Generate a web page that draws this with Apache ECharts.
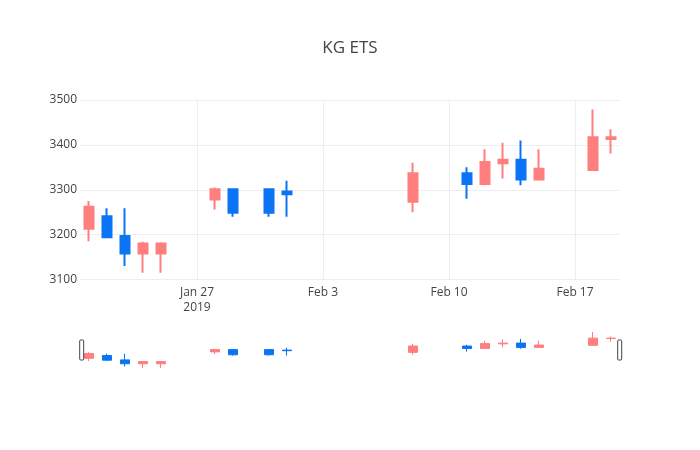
<!DOCTYPE html>
<html>
<head>
<meta charset="utf-8">
<script src="https://cdn.jsdelivr.net/npm/echarts@6/dist/echarts.min.js"></script>
<style>
  html, body { margin: 0; padding: 0; background: #fff; }
  #chart { width: 700px; height: 450px; }
</style>
</head>
<body>
<div id="chart"></div>
<script>
// trading days
const dates = ['2019-01-21', '2019-01-22', '2019-01-23', '2019-01-24', '2019-01-25',
  '2019-01-28', '2019-01-29', '2019-01-31', '2019-02-01',
  '2019-02-08', '2019-02-11', '2019-02-12', '2019-02-13', '2019-02-14', '2019-02-15',
  '2019-02-18', '2019-02-19']
const opens = [3213, 3241, 3197, 3158, 3158, 3278, 3301, 3301, 3296, 3273, 3337, 3313, 3359, 3367, 3323, 3344, 3413]
const closes = [3262, 3194, 3158, 3180, 3180, 3301, 3249, 3249, 3290, 3337, 3313, 3362, 3367, 3323, 3347, 3417, 3417]
const lows = [3185, 3192, 3130, 3115, 3115, 3256, 3240, 3240, 3240, 3250, 3280, 3310, 3325, 3310, 3321, 3343, 3381]
const highs = [3275, 3259, 3259, 3184, 3183, 3305, 3301, 3302, 3320, 3360, 3350, 3390, 3405, 3410, 3390, 3479, 3435]

const tickDates = ['2019-01-27', '2019-02-03', '2019-02-10', '2019-02-17']
const tickLabels = ['Jan 27\n2019', 'Feb 3', 'Feb 10', 'Feb 17']

const upColor = '#ff7f7f'
const downColor = '#0a74f5'
const DAY = 24 * 3600 * 1000

const t = (s) => new Date(s + 'T00:00:00').getTime()

const candles = dates.map((d, i) => [t(d), opens[i], closes[i], lows[i], highs[i]])
const tickValues = tickDates.map(t)
const xMin = t(dates[0]) - DAY / 2
const xMax = t(dates[dates.length - 1]) + DAY / 2

const chart = echarts.init(document.getElementById('chart'))

const option = {
  animation: false,
  textStyle: { fontFamily: 'Open Sans', color: '#444' },
  title: {
    text: 'KG ETS',
    left: 'center',
    top: 35,
    textStyle: { fontFamily: 'Open Sans', fontSize: 17, fontWeight: 'normal', color: '#444' }
  },
  grid: [
    { left: 80, right: 80, top: 100, height: 179.5 },
    { left: 80, right: 80, top: 332, height: 36 }
  ],
  xAxis: [
    {
      type: 'value',
      gridIndex: 0,
      min: xMin,
      max: xMax,
      axisLine: { show: false },
      axisTick: { show: false, customValues: tickValues },
      axisLabel: {
        customValues: tickValues,
        color: '#444',
        fontSize: 12,
        fontFamily: 'Open Sans',
        lineHeight: 15,
        margin: 6,
        formatter: (v) => {
          const i = tickValues.indexOf(v)
          return i >= 0 ? tickLabels[i] : ''
        }
      },
      splitLine: { show: true, lineStyle: { color: '#eee', width: 1 } }
    },
    {
      type: 'value',
      gridIndex: 1,
      min: xMin,
      max: xMax,
      show: false
    }
  ],
  yAxis: [
    {
      type: 'value',
      gridIndex: 0,
      min: 3100,
      max: 3500,
      interval: 100,
      axisLine: { show: false },
      axisTick: { show: false },
      axisLabel: {
        color: '#444',
        fontSize: 12,
        fontFamily: 'Open Sans',
        margin: 3,
        formatter: (v) => String(v)
      },
      splitLine: { lineStyle: { color: '#eee', width: 1 } }
    },
    {
      type: 'value',
      gridIndex: 1,
      min: 'dataMin',
      max: 'dataMax',
      show: false
    }
  ],
  dataZoom: [
    {
      type: 'slider',
      xAxisIndex: [0],
      filterMode: 'none',
      start: 0,
      end: 100,
      left: 80,
      right: 80,
      top: 340,
      height: 20,
      showDetail: false,
      showDataShadow: false,
      brushSelect: false,
      moveHandleSize: 0,
      backgroundColor: 'rgba(0,0,0,0)',
      borderColor: 'rgba(0,0,0,0)',
      fillerColor: 'rgba(0,0,0,0)',
      handleIcon: 'path://M1,0 L3,0 Q4,0 4,1 L4,19 Q4,20 3,20 L1,20 Q0,20 0,19 L0,1 Q0,0 1,0 Z',
      handleSize: '100%',
      handleStyle: { color: '#fff', borderColor: '#444', borderWidth: 1 },
      emphasis: { handleStyle: { borderColor: '#444' } }
    }
  ],
  series: [
    {
      type: 'candlestick',
      xAxisIndex: 0,
      yAxisIndex: 0,
      data: candles,
      encode: { x: 0, y: [1, 2, 3, 4] },
      barWidth: 9,
      itemStyle: {
        color: upColor,
        color0: downColor,
        borderColor: upColor,
        borderColor0: downColor,
        borderWidth: 2
      }
    },
    {
      type: 'candlestick',
      xAxisIndex: 1,
      yAxisIndex: 1,
      data: candles,
      encode: { x: 0, y: [1, 2, 3, 4] },
      barWidth: 9,
      silent: true,
      itemStyle: {
        color: upColor,
        color0: downColor,
        borderColor: upColor,
        borderColor0: downColor,
        borderWidth: 1
      }
    }
  ]
}

chart.setOption(option)

window.addEventListener('resize', () => chart.resize())
</script>
</body>
</html>
